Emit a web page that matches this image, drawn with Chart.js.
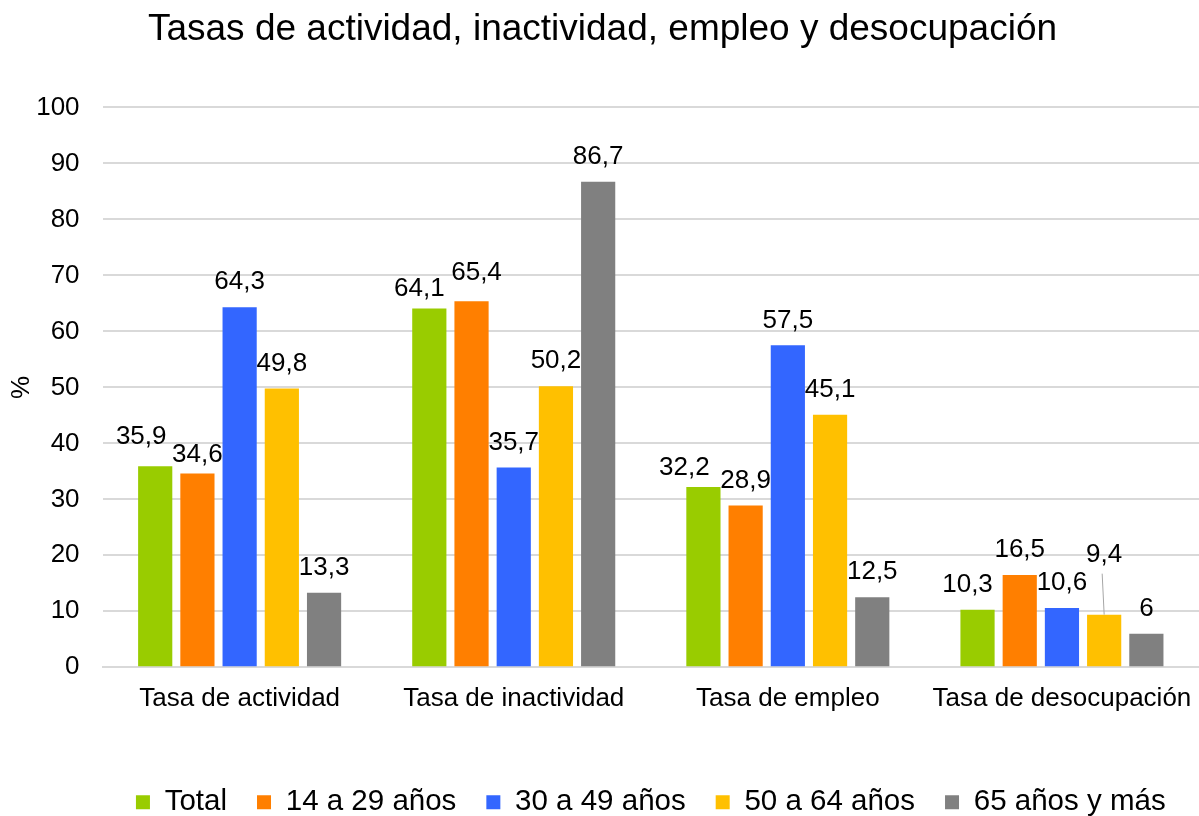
<!DOCTYPE html>
<html><head><meta charset="utf-8">
<script src="https://cdn.jsdelivr.net/npm/chart.js@4"></script>
<style>html,body{margin:0;padding:0;background:#fff}#wrap{width:1199px;height:816px}</style>
</head><body><div id="wrap"><canvas id="c" width="1199" height="816"></canvas></div>
<script>
const categories = ["Tasa de actividad","Tasa de inactividad","Tasa de empleo","Tasa de desocupación"];
const seriesNames = ["Total","14 a 29 años","30 a 49 años","50 a 64 años","65 años y más"];
const total = [35.9, 64.1, 32.2, 10.3];
const age14_29 = [34.6, 65.4, 28.9, 16.5];
const age30_49 = [64.3, 35.7, 57.5, 10.6];
const age50_64 = [49.8, 50.2, 45.1, 9.4];
const age65plus = [13.3, 86.7, 12.5, 6];
const yTicks = [0,10,20,30,40,50,60,70,80,90,100];
const colors = ["#99CC00","#FF7F00","#3366FF","#FFC000","#808080"];
const FONT = "'Liberation Sans', Arial, sans-serif";

const labelPlugin = {
  id: 'barLabels',
  beforeInit(chart) {
    const lg = chart.legend;
    if (lg) {
      const origFit = lg.fit;
      lg.fit = function () { origFit.call(this); this.height -= 11; };
    }
  },
  afterDatasetsDraw(chart, args, opts) {
    const ctx = chart.ctx;
    ctx.save();
    ctx.font = "26px " + FONT;
    ctx.fillStyle = "#000";
    ctx.textAlign = "center";
    ctx.textBaseline = "middle";
    chart.data.datasets.forEach((ds, di) => {
      const meta = chart.getDatasetMeta(di);
      meta.data.forEach((el, i) => {
        const v = ds.data[i];
        const txt = String(v).replace('.', ',');
        const n = (opts.nudge && opts.nudge[di + '-' + i]) || [0, 0];
        const x = el.x + n[0];
        const y = el.y - 25 + n[1];
        if (opts.leader && opts.leader[di + '-' + i]) {
          ctx.strokeStyle = "#a6a6a6";
          ctx.lineWidth = 1;
          ctx.beginPath();
          ctx.moveTo(x - 2, y + 19);
          ctx.lineTo(el.x, el.y);
          ctx.stroke();
        }
        ctx.fillText(txt, x, y);
      });
    });
    ctx.restore();
  }
};

const datasets = [total, age14_29, age30_49, age50_64, age65plus].map((d, i) => ({
  label: seriesNames[i], data: d, backgroundColor: colors[i],
  borderColor: "#ffffff", borderWidth: 0,
  barPercentage: 0.81, categoryPercentage: 0.77
}));

new Chart(document.getElementById('c'), {
  type: 'bar',
  data: { labels: categories, datasets },
  plugins: [labelPlugin],
  options: {
    responsive: false,
    animation: false,
    layout: { padding: { left: 6, right: 0, top: 4, bottom: 0 } },
    plugins: {
      title: { display: true, text: "Tasas de actividad, inactividad, empleo y desocupación",
        font: { family: FONT, size: 37, weight: 'normal' }, color: "#000",
        padding: { top: 4, bottom: 55 } },
      legend: { position: 'bottom', fullSize: false,
        labels: { font: { family: FONT, size: 29.5 }, color: "#000", boxWidth: 14, boxHeight: 14, padding: 30 } },
      tooltip: { enabled: false },
      barLabels: {
        nudge: { '0-0': [-14, -4], '1-0': [0, 6], '0-1': [-10, 5], '1-1': [5, -3], '0-2': [-19, 6], '0-3': [-10, 0], '3-3': [0, -35] },
        leader: { '3-3': true }
      }
    },
    scales: {
      x: {
        grid: { display: false, drawTicks: false },
        border: { color: "#d9d9d9", width: 2 },
        ticks: { font: { family: FONT, size: 26 }, color: "#000", padding: 16, maxRotation: 0 },
        afterFit(scale) { scale.height += 27; scale.paddingRight = 0; scale.paddingLeft = 0; }
      },
      y: {
        min: 0, max: 100,
        afterBuildTicks(scale) { scale.ticks = yTicks.map(v => ({ value: v })); },
        afterFit(scale) { scale.width -= 24; },
        grid: { color: "#d9d9d9", lineWidth: 2, drawTicks: false },
        border: { display: false },
        ticks: { font: { family: FONT, size: 26 }, color: "#000", padding: 23 },
        title: { display: true, text: "%", font: { family: FONT, size: 26 }, color: "#000", padding: { top: 0, bottom: 0 } }
      }
    }
  }
});
</script></body></html>
